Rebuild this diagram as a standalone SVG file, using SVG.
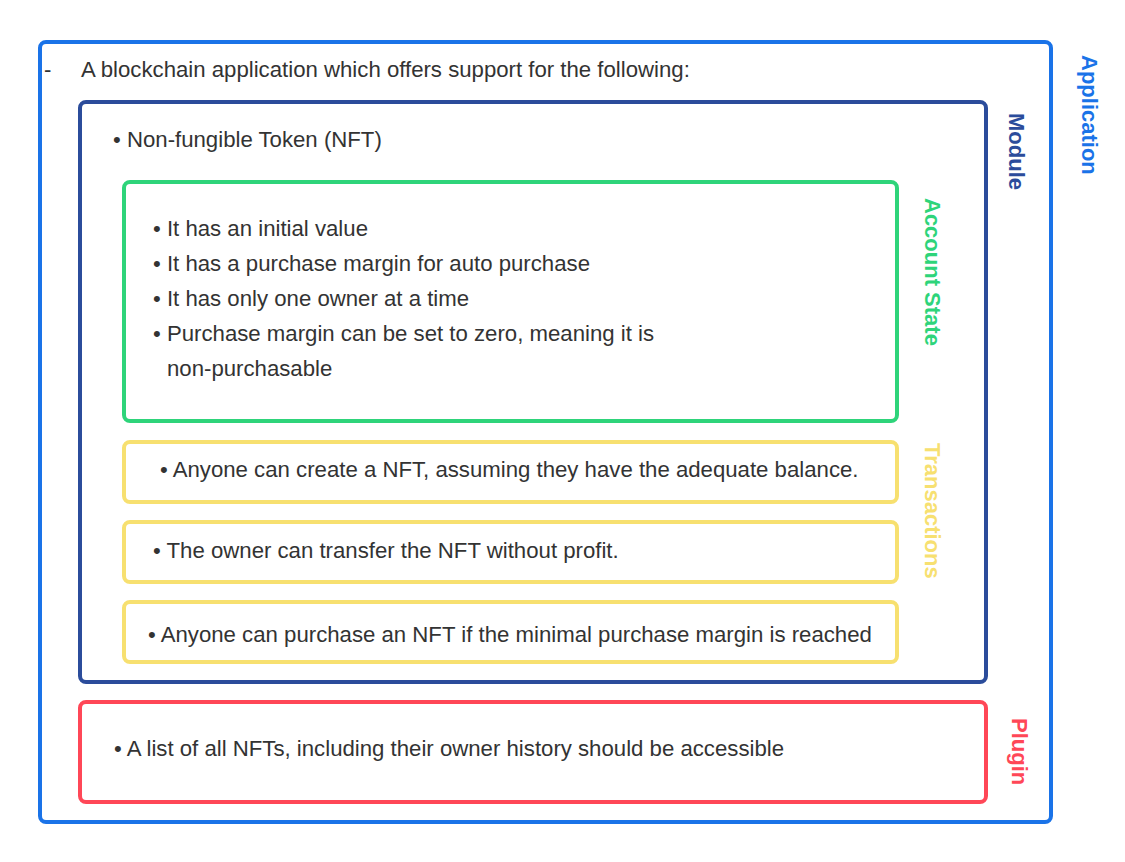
<svg xmlns="http://www.w3.org/2000/svg" width="1125" height="862" viewBox="0 0 1125 862">
<style>
.box{fill:#fff;stroke-width:4}
.t{font-family:"Liberation Sans",Arial,sans-serif;font-size:22.2px;fill:#333}
.lbl{font-family:"Liberation Sans",Arial,sans-serif;font-size:22px;font-weight:bold}
</style>
<rect width="1125" height="862" fill="#fff"/>
<g id="application">
<rect class="box" x="40" y="42" width="1011" height="780" rx="6" stroke="#1a73e8"/>
<text class="t" x="44" y="77">-</text>
<text class="t" x="81" y="77">A blockchain application which offers support for the following:</text>
<text class="lbl" fill="#1a73e8" transform="translate(1082,55) rotate(90)">Application</text>
</g>
<g id="module">
<rect class="box" x="80" y="102" width="906" height="580" rx="6" stroke="#2b4c9b"/>
<text class="t" x="113" y="147">• Non-fungible Token (NFT)</text>
<text class="lbl" fill="#2b4c9b" transform="translate(1009,113) rotate(90)">Module</text>
</g>
<g id="account-state">
<rect class="box" x="124" y="182" width="773" height="239" rx="6" stroke="#2ed47a"/>
<text class="t" x="153" y="236">• It has an initial value</text>
<text class="t" x="153" y="271">• It has a purchase margin for auto purchase</text>
<text class="t" x="153" y="306">• It has only one owner at a time</text>
<text class="t" x="153" y="341">• Purchase margin can be set to zero, meaning it is</text>
<text class="t" x="167" y="376">non-purchasable</text>
<text class="lbl" fill="#2ed47a" transform="translate(925,198) rotate(90)">Account State</text>
</g>
<g id="transaction-create">
<rect class="box" x="124" y="442" width="773" height="60" rx="6" stroke="#f7e070"/>
<text class="t" x="160" y="477">• Anyone can create a NFT, assuming they have the adequate balance.</text>
</g>
<g id="transaction-transfer">
<rect class="box" x="124" y="522" width="773" height="60" rx="6" stroke="#f7e070"/>
<text class="t" x="153" y="558">• The owner can transfer the NFT without profit.</text>
</g>
<g id="transaction-purchase">
<rect class="box" x="124" y="602" width="773" height="60" rx="6" stroke="#f7e070"/>
<text class="t" x="148" y="642">• Anyone can purchase an NFT if the minimal purchase margin is reached</text>
</g>
<text class="lbl" fill="#f7e070" transform="translate(925,443) rotate(90)">Transactions</text>
<g id="plugin">
<rect class="box" x="80" y="702" width="906" height="100" rx="6" stroke="#ff4757"/>
<text class="t" x="114" y="756">• A list of all NFTs, including their owner history should be accessible</text>
<text class="lbl" fill="#ff4757" transform="translate(1012,718) rotate(90)">Plugin</text>
</g>
<g id="connectors"></g>
</svg>
